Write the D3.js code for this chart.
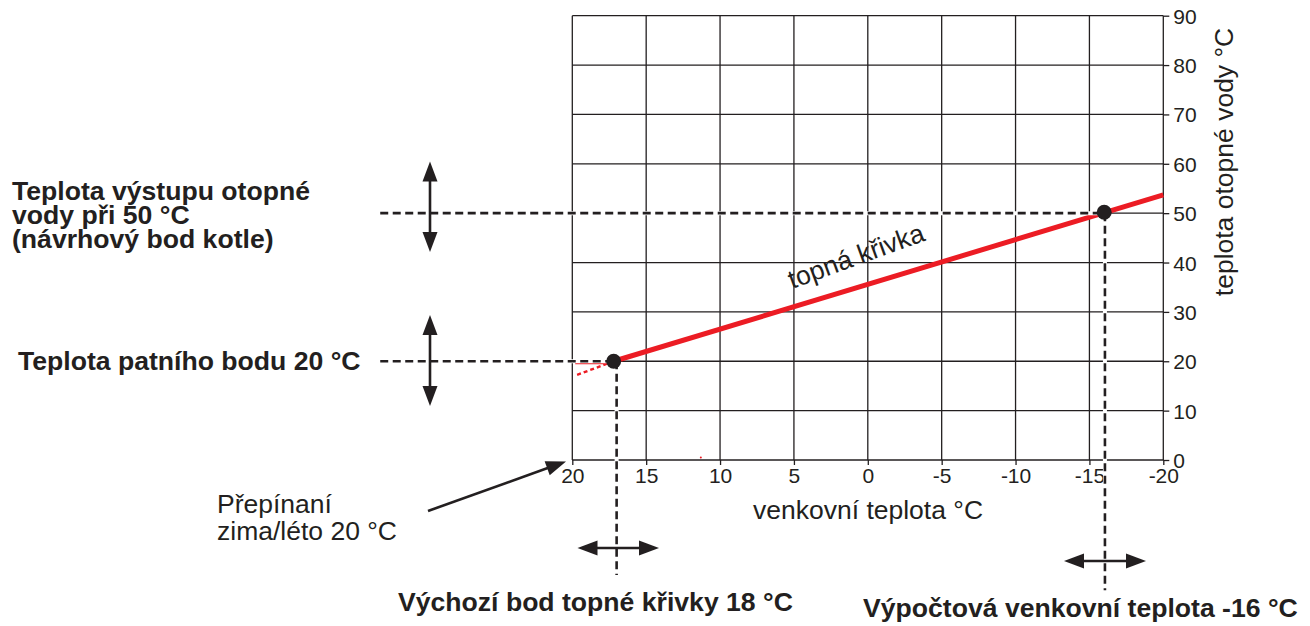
<!DOCTYPE html>
<html>
<head>
<meta charset="utf-8">
<script src="https://cdn.jsdelivr.net/npm/d3@7"></script>
<style>
  html, body { margin: 0; padding: 0; background: #ffffff; }
  svg { display: block; }
  text { font-family: "Liberation Sans", Arial, Helvetica, sans-serif; fill: #231f20; }
</style>
</head>
<body>
<script>
// ---------- data ----------
const outdoorTicks = [20, 15, 10, 5, 0, -5, -10, -15, -20];
const waterTicks = [0, 10, 20, 30, 40, 50, 60, 70, 80, 90];

// heating curve (solid red) : outdoor temp -> water temp
const curveOutdoor = [17.2, -20];
const curveWater = [20, 53.7];
// dashed red continuation toward 20 °C
const extOutdoor = [17.2, 19.8];
const extWater = [20, 17.1];
// thin red flat segment at foot point
const flatOutdoor = [17.2, 19.8];
const flatWater = [19.6, 19.6];

// key points (black dots)
const pointOutdoor = [17.2, -16];
const pointWater = [20, 50.2];

// stray red speck
const speckOutdoor = [11.3];
const speckWater = [0.5];

// dashed leader lines
const hLeaderWater = [20, 50];
const hLeaderFrom = [33.0, 33.0];      // outdoor value where the leader starts (left of plot)
const hLeaderTo = [17.2, -16];
const vLeaderOutdoor = [17.0, -16.05];
const vLeaderFrom = [20, 50];
const vLeaderTo = [-23.3, -26.4];     // water value where the leader ends (below plot)

const xTitle = "venkovní teplota °C";
const yTitle = "teplota otopné vody °C";
const curveLabel = "topná křivka";

// ---------- layout ----------
const W = 1310, H = 626;
const x = d3.scaleLinear().domain([20, -20]).range([572.3, 1163.3]);
const y = d3.scaleLinear().domain([0, 90]).range([460, 15.7]);
const ink = "#231f20";
const red = "#ec1c24";

const svg = d3.select("body").append("svg").attr("width", W).attr("height", H);

// ---------- grid ----------
const grid = svg.append("g").attr("stroke", ink).attr("stroke-width", 1.3);
grid.selectAll("line.v").data(outdoorTicks).join("line").attr("class", "v")
  .attr("x1", d => x(d)).attr("x2", d => x(d))
  .attr("y1", y(0)).attr("y2", y(90));
grid.selectAll("line.h").data(waterTicks).join("line").attr("class", "h")
  .attr("x1", x(20)).attr("x2", x(-20))
  .attr("y1", d => y(d)).attr("y2", d => y(d));

// ---------- axes ----------
const fmt = d => String(d);
const yAxis = svg.append("g").attr("transform", `translate(${x(-20)},0)`)
  .call(d3.axisRight(y).tickValues(waterTicks).tickSize(6).tickPadding(4).tickFormat(fmt));
const xAxis = svg.append("g").attr("transform", `translate(0,${y(0)})`)
  .call(d3.axisBottom(x).tickValues(outdoorTicks).tickSize(5).tickPadding(3).tickFormat(fmt));
[yAxis, xAxis].forEach(a => {
  a.select(".domain").remove();
  a.selectAll(".tick line").attr("stroke", ink).attr("stroke-width", 1.3);
  a.selectAll(".tick text").attr("fill", ink).style("font-size", "21px")
    .style("font-family", '"Liberation Sans", Arial, sans-serif');
});
yAxis.selectAll(".tick text").attr("dy", "0.36em");

// axis titles
svg.append("text").attr("x", 868).attr("y", 519).attr("text-anchor", "middle")
  .style("font-size", "26.5px").text(xTitle);
svg.append("text").attr("transform", "translate(1233,162) rotate(-90)")
  .attr("text-anchor", "middle").style("font-size", "26.5px").text(yTitle);

// ---------- red curve ----------
const line = d3.line().x(d => x(d[0])).y(d => y(d[1]));
const zip = (a, b) => a.map((v, i) => [v, b[i]]);

svg.append("path").datum(zip(flatOutdoor, flatWater)).attr("d", line)
  .attr("fill", "none").attr("stroke", red).attr("stroke-width", 2);
svg.append("path").datum(zip(extOutdoor, extWater)).attr("d", line)
  .attr("fill", "none").attr("stroke", red).attr("stroke-width", 2.4)
  .attr("stroke-dasharray", "4,3");
svg.append("path").datum(zip(curveOutdoor, curveWater)).attr("d", line)
  .attr("fill", "none").attr("stroke", red).attr("stroke-width", 5);

svg.selectAll("circle.speck").data(zip(speckOutdoor, speckWater)).join("circle")
  .attr("class", "speck").attr("cx", d => x(d[0])).attr("cy", d => y(d[1]))
  .attr("r", 1).attr("fill", red);

// curve label
svg.append("text").attr("transform", "translate(792,289) rotate(-20)")
  .style("font-size", "26.5px").text(curveLabel);

// ---------- dashed leaders ----------
function dashed(x1, y1, x2, y2) {
  svg.append("line").attr("x1", x1).attr("y1", y1).attr("x2", x2).attr("y2", y2)
    .attr("stroke", "#fff").attr("stroke-width", 4);
  svg.append("line").attr("x1", x1).attr("y1", y1).attr("x2", x2).attr("y2", y2)
    .attr("stroke", ink).attr("stroke-width", 2.6).attr("stroke-dasharray", "8,4.5");
}
hLeaderWater.forEach((w, i) => dashed(x(hLeaderFrom[i]), y(w), x(hLeaderTo[i]), y(w)));
vLeaderOutdoor.forEach((o, i) => dashed(x(o), y(vLeaderFrom[i]), x(o), y(vLeaderTo[i])));

// ---------- dots ----------
svg.selectAll("circle.pt").data(zip(pointOutdoor, pointWater)).join("circle")
  .attr("class", "pt").attr("cx", d => x(d[0])).attr("cy", d => y(d[1]))
  .attr("r", 7.5).attr("fill", ink);

// ---------- arrows ----------
function arrow(x1, y1, x2, y2, both) {
  const L = 20, hw = 7.5;
  const dx = x2 - x1, dy = y2 - y1, len = Math.hypot(dx, dy);
  const ux = dx / len, uy = dy / len, px = -uy, py = ux;
  const sx1 = both ? x1 + ux * (L - 2) : x1, sy1 = both ? y1 + uy * (L - 2) : y1;
  svg.append("line").attr("x1", sx1).attr("y1", sy1)
    .attr("x2", x2 - ux * (L - 2)).attr("y2", y2 - uy * (L - 2))
    .attr("stroke", ink).attr("stroke-width", 2.6);
  const head = (tx, ty, vx, vy) => {
    const bx = tx - vx * L, by = ty - vy * L;
    svg.append("path").attr("d",
      `M${tx},${ty}L${bx + px * hw},${by + py * hw}L${bx - px * hw},${by - py * hw}Z`)
      .attr("fill", ink);
  };
  head(x2, y2, ux, uy);
  if (both) head(x1, y1, -ux, -uy);
}
arrow(430, 161.5, 430, 252, true);
arrow(430, 315, 430, 406, true);
arrow(577.5, 548, 659, 548, true);
arrow(1064, 561, 1146, 561, true);
arrow(428, 511, 566, 461.5, false);

// ---------- annotation texts ----------
const bold = (tx, ty, s) => svg.append("text").attr("x", tx).attr("y", ty)
  .style("font-size", "26.6px").style("font-weight", "700").text(s);
bold(12, 200, "Teplota výstupu otopné");
bold(12, 224, "vody při 50 °C");
bold(12, 247.5, "(návrhový bod kotle)");
bold(18, 370, "Teplota patního bodu 20 °C");
bold(398, 611, "Výchozí bod topné křivky 18 °C");
bold(863, 617, "Výpočtová venkovní teplota -16 °C");

svg.append("text").attr("x", 217).attr("y", 513).style("font-size", "26.5px").text("Přepínaní");
svg.append("text").attr("x", 217).attr("y", 540).style("font-size", "26.5px").text("zima/léto 20 °C");
</script>
</body>
</html>
